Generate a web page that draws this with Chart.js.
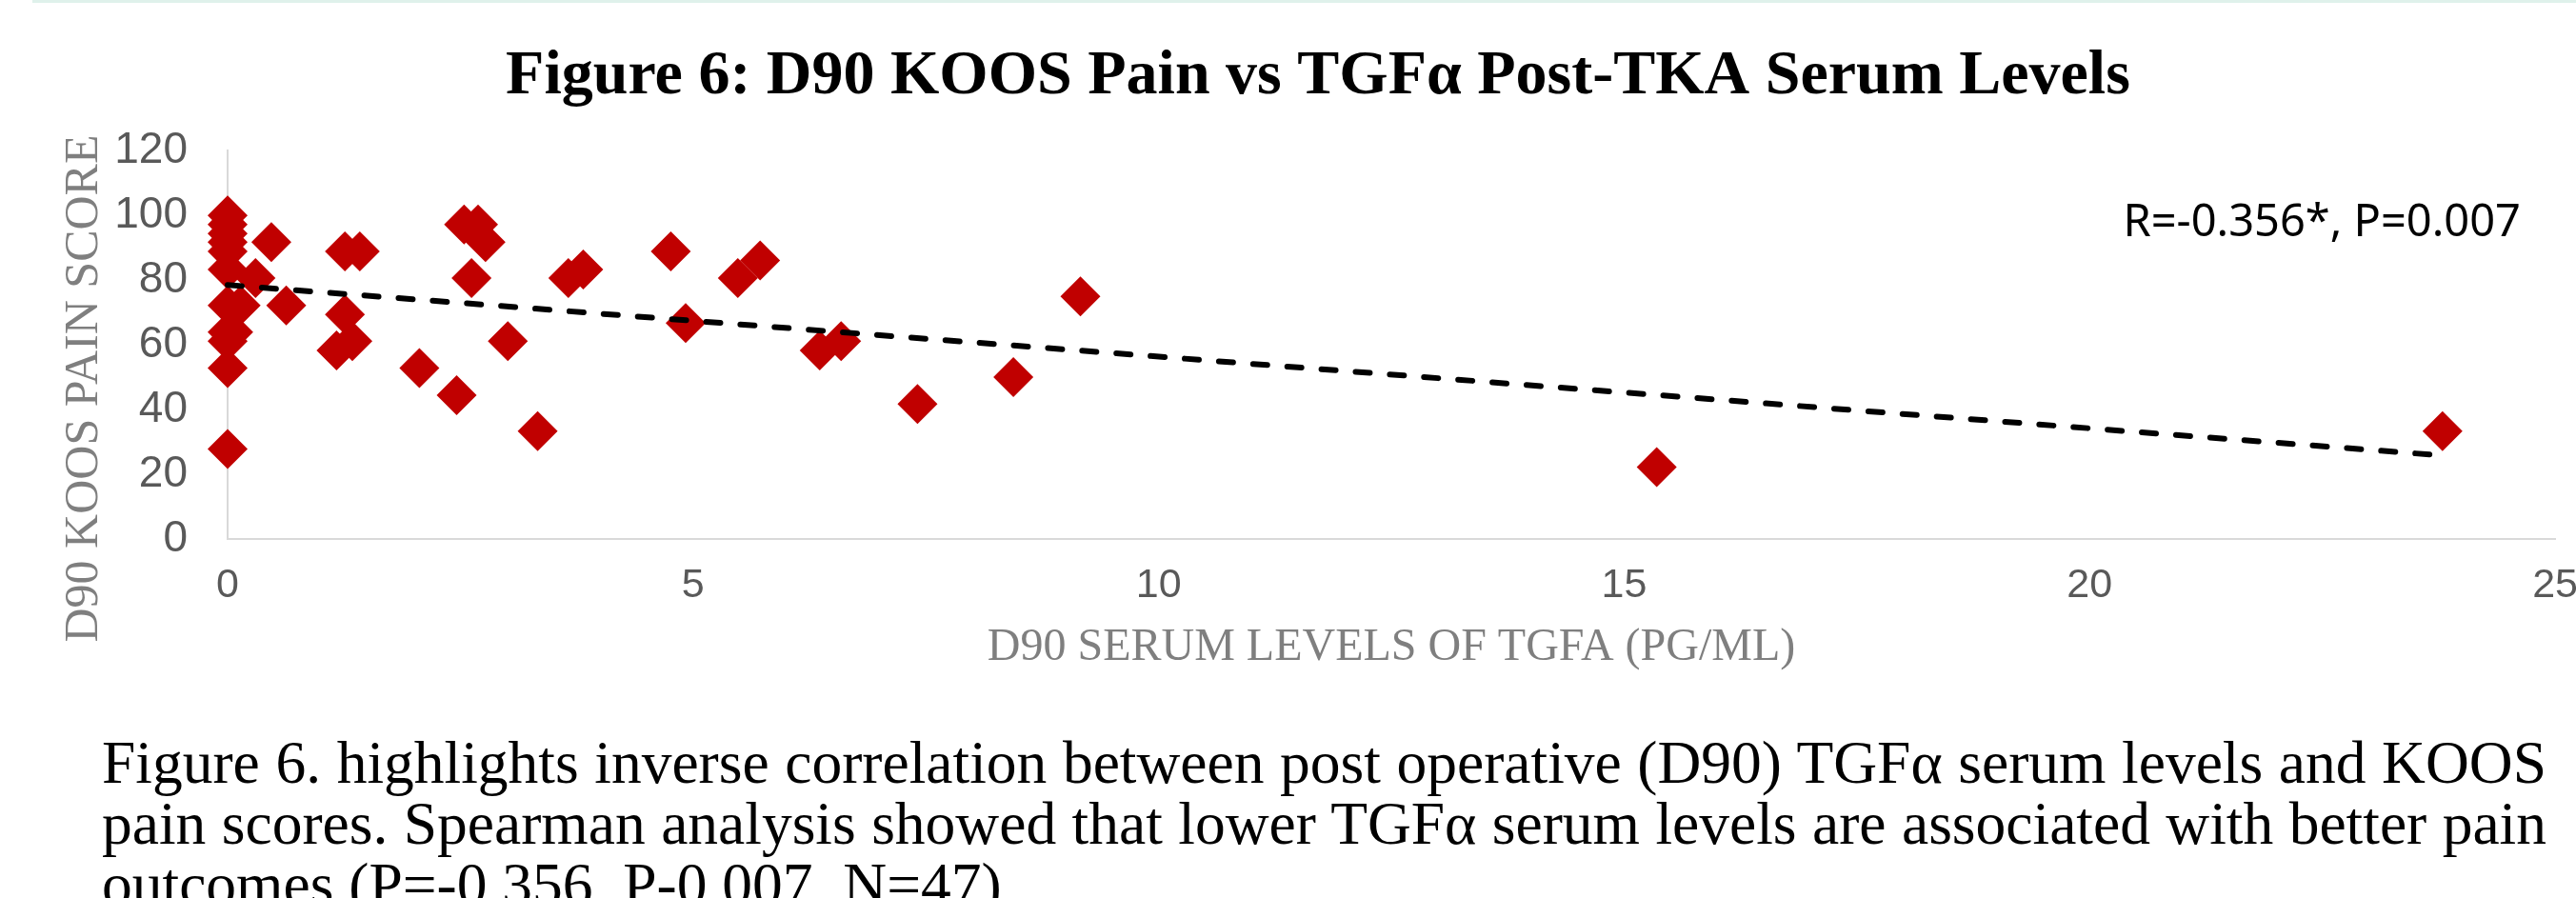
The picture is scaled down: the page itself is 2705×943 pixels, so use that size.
<!DOCTYPE html>
<html>
<head>
<meta charset="utf-8">
<title>Figure 6</title>
<script src="https://cdn.jsdelivr.net/npm/chart.js@4.4.1/dist/chart.umd.min.js"></script>
<style>
    html, body { margin: 0; padding: 0; background: #fff; overflow: hidden; }
    .page { position: relative; width: 2705px; height: 943px; overflow: hidden; background: #fff; }
    .page__rule { position: absolute; left: 34px; right: 0; top: 0; height: 3px; background: #dff1eb; }
    #koosChart { position: absolute; left: 0; top: 0; }
    .caption { position: absolute; left: 107px; top: 769px; width: 2567px; font-family: "Liberation Serif", "Times New Roman", serif; font-size: 63.5px; line-height: 64px; color: #000; }
    .caption__line_full { text-align: justify; text-align-last: justify; white-space: nowrap; }
</style>
</head>
<body>
<div class="page">
    <div class="page__rule"></div>
    <canvas id="koosChart" width="2730" height="720"></canvas>
    <div class="caption">
        <div class="caption__line_full">Figure 6. highlights inverse correlation between post operative (D90) TGFα serum levels and KOOS</div>
        <div class="caption__line_full">pain scores. Spearman analysis showed that lower TGFα serum levels are associated with better pain</div>
        <div>outcomes (P=-0.356, P-0.007, N=47).</div>
    </div>
</div>
<script>
'use strict';

// D90 TGFa serum level (pg/ml) and D90 KOOS pain score, one entry per patient
const tgfaLevels = [0, 0, 0, 0, 0, 0, 0, 0, 0, 0, 0,
    0.06, 0.14, 0.30, 0.47, 0.63,
    1.26, 1.42, 1.26, 1.17, 1.34, 2.06, 2.46, 2.54, 2.69, 2.77, 2.62, 3.01, 3.33,
    3.66, 3.82, 4.76, 4.92, 5.48, 5.72, 6.36, 6.59, 7.41, 8.44, 9.16, 15.35, 23.79];
const koosPain = [100, 97.2, 94.4, 91.7, 88.9, 83.3, 72.2, 63.9, 61.1, 52.8, 27.8,
    63.9, 72.2, 80.6, 91.7, 72.2,
    88.9, 88.9, 69.4, 58.3, 61.1, 52.8, 44.4, 97.2, 97.2, 91.7, 80.6, 61.1, 33.3,
    80.6, 83.3, 88.9, 66.7, 80.6, 86.1, 58.3, 61.1, 41.7, 50, 75, 22.2, 33.3];

// linear trendline end points as drawn in the figure
const trendX = [0, 23.79];
const trendY = [78.5, 25.8];

const xTickValues = [0, 5, 10, 15, 20, 25];
const yTickValues = [0, 20, 40, 60, 80, 100, 120];

const chartTitle = 'Figure 6: D90 KOOS Pain vs TGFα Post-TKA Serum Levels';
const xTitle = 'D90 SERUM LEVELS OF TGFA (PG/ML)';
const yTitle = 'D90 KOOS PAIN SCORE';
const statsNote = 'R=-0.356*, P=0.007';

const figureText = {
    id: 'figureText',
    afterDraw: function (chart) {
        var ctx = chart.ctx;
        var area = chart.chartArea;
        ctx.save();
        ctx.fillStyle = '#7f7f7f';
        ctx.font = '48px "Liberation Serif"';
        ctx.textAlign = 'center';
        ctx.textBaseline = 'alphabetic';
        ctx.fillText(xTitle, (area.left + area.right) / 2, 693);
        ctx.font = '50px "Liberation Serif"';
        ctx.translate(102, 408);
        ctx.rotate(-Math.PI / 2);
        ctx.fillText(yTitle, 0, 0);
        ctx.restore();

        ctx.save();
        ctx.fillStyle = '#000';
        ctx.font = '47px "Noto Sans"';
        ctx.textAlign = 'right';
        ctx.fillText(statsNote, 2647, 248);
        ctx.restore();
    }
};

new Chart(document.getElementById('koosChart'), {
    type: 'scatter',
    data: {
        datasets: [{
            label: 'Linear trend',
            data: trendX.map(function (x, i) { return { x: x, y: trendY[i] }; }),
            showLine: true,
            borderColor: '#000',
            borderWidth: 6,
            borderDash: [15, 21],
            borderCapStyle: 'round',
            pointRadius: 0,
            order: 0,
            clip: false
        }, {
            label: 'Patients',
            data: tgfaLevels.map(function (x, i) { return { x: x, y: koosPain[i] }; }),
            pointStyle: 'rectRot',
            pointRadius: 21,
            backgroundColor: '#c00000',
            borderColor: '#c00000',
            borderWidth: 0,
            order: 1,
            clip: false
        }]
    },
    options: {
        responsive: false,
        animation: false,
        layout: {
            padding: { left: 82, right: 44, top: 0, bottom: 0 }
        },
        plugins: {
            legend: { display: false },
            tooltip: { enabled: false },
            title: {
                display: true,
                text: chartTitle,
                color: '#000',
                font: { family: '"Liberation Serif"', size: 66, weight: 'bold', lineHeight: 1.2 },
                padding: { top: 41, bottom: 38 }
            }
        },
        scales: {
            x: {
                type: 'linear',
                min: 0,
                max: 25,
                afterBuildTicks: function (scale) {
                    scale.ticks = xTickValues.map(function (v) { return { value: v }; });
                },
                afterFit: function (scale) { scale.height = 154; },
                grid: { display: false, drawTicks: false },
                border: { display: true, color: '#d9d9d9', width: 2 },
                ticks: {
                    color: '#595959',
                    padding: 23,
                    font: { family: '"Liberation Sans"', size: 43 }
                }
            },
            y: {
                min: 0,
                max: 120,
                afterBuildTicks: function (scale) {
                    scale.ticks = yTickValues.map(function (v) { return { value: v }; });
                },
                afterFit: function (scale) { scale.width = 157; },
                grid: { display: false, drawTicks: false },
                border: { display: true, color: '#d9d9d9', width: 2 },
                ticks: {
                    color: '#595959',
                    padding: 42,
                    font: { family: '"Liberation Sans"', size: 46 }
                }
            }
        }
    },
    plugins: [figureText]
});
</script>
</body>
</html>
